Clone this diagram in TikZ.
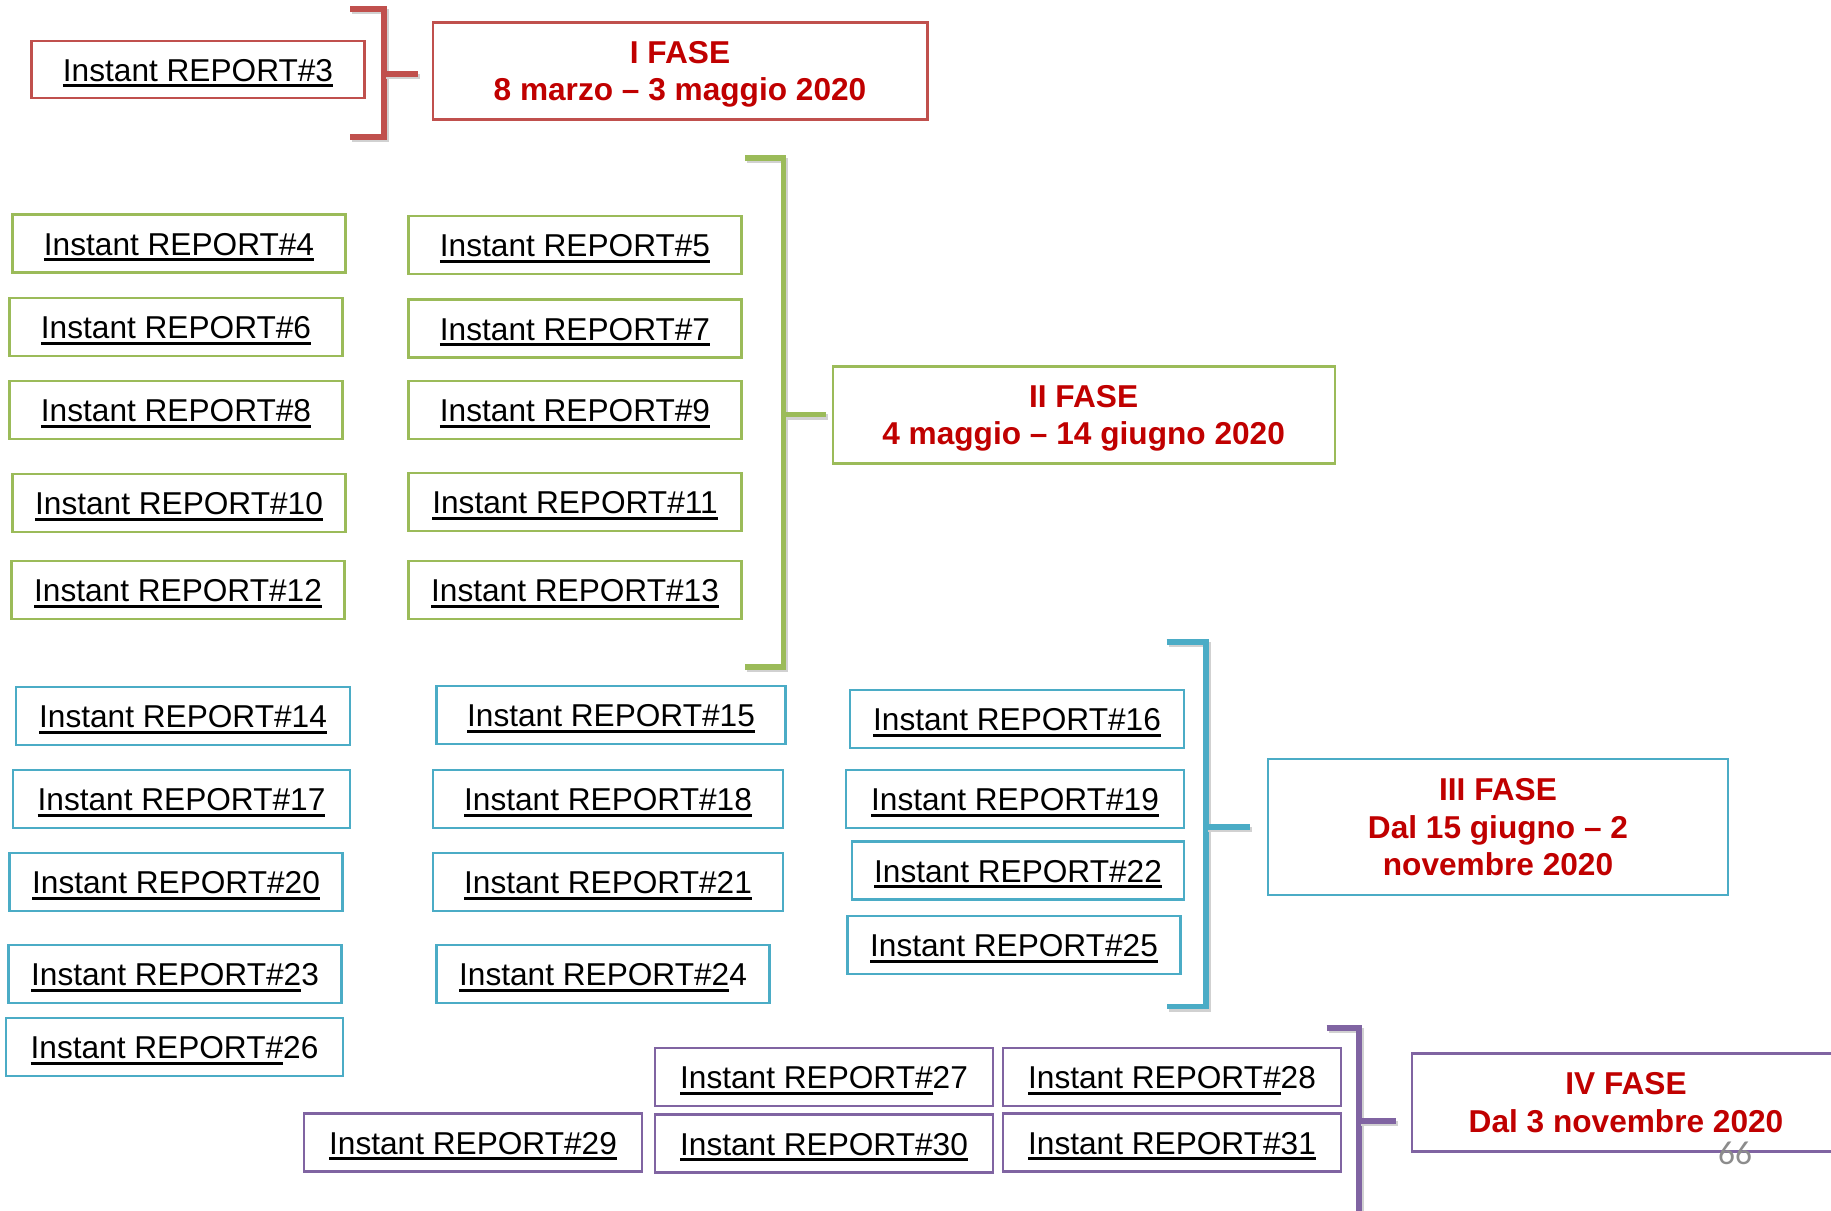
\documentclass[tikz,border=0pt]{standalone}
\usepackage{fontspec}
\setmainfont{Liberation Sans}
\newfontfamily\pagefont{Carlito}
\usepackage{xcolor}
\usetikzlibrary{positioning}

\definecolor{redline}{HTML}{C0504D}
\definecolor{greenline}{HTML}{9BBB59}
\definecolor{blueline}{HTML}{4BACC6}
\definecolor{purpleline}{HTML}{8064A2}
\definecolor{fasered}{HTML}{C00000}

\newsavebox{\ulbox}
\newcommand{\undl}[1]{\sbox{\ulbox}{#1}\rlap{\rule[-3.4pt]{\wd\ulbox}{1.5pt}}\usebox{\ulbox}}
\newcommand{\ir}[1]{\undl{Instant REPORT\##1}}

\begin{document}
\begin{tikzpicture}[x=0.02cm, y=-0.02cm,
    rep/.style={rectangle, draw=#1, line width=1.2pt, fill=white, inner sep=0pt,
                minimum width=6.66cm, minimum height=1.16cm,
                text height=13.2pt, text depth=0pt,
                font=\fontsize{18}{21.5}\selectfont},
    fase/.style={rectangle, draw=#1, line width=1.2pt, fill=white, inner sep=0pt,
                 align=center, text=fasered, minimum height=1.94cm, text depth=0pt,
                 font=\fontsize{18}{21.5}\selectfont\bfseries},
    brk/.style={draw=#1, line width=3pt, line join=miter,
                preaction={draw=black!18, line width=3pt, transform canvas={shift={(1.2pt,-1.4pt)}}}}
]
    \path[use as bounding box, clip] (0,0) rectangle (1831,1210);

    % I fase
    \node[rep=redline, minimum height=1.14cm] (r3) at (198,69.5) {\ir{3}};
    \node[fase=redline, minimum width=9.9cm] (f1) at (680,71) {I FASE\\8 marzo – 3 maggio 2020};
    \coordinate (b1) at (384,74);
    \draw[brk=redline] (350,9) -| (384,137) -- (350,137);
    \draw[brk=redline] (b1) -- ++(34,0);

    % II fase
    \node[rep=greenline] (r4)  at (179,243.5) {\ir{4}};
    \node[rep=greenline] (r6)  at (176,327)   {\ir{6}};
    \node[rep=greenline] (r8)  at (176,410)   {\ir{8}};
    \node[rep=greenline] (r10) at (179,503)   {\ir{10}};
    \node[rep=greenline] (r12) at (178,590)   {\ir{12}};
    \node[rep=greenline] (r5)  at (575,245)   {\ir{5}};
    \node[rep=greenline] (r7)  at (575,328.5) {\ir{7}};
    \node[rep=greenline] (r9)  at (575,410)   {\ir{9}};
    \node[rep=greenline] (r11) at (575,502)   {\ir{11}};
    \node[rep=greenline] (r13) at (575,590)   {\ir{13}};
    \node[fase=greenline, minimum width=10.04cm] (f2) at (1083.6,415) {II FASE\\4 maggio – 14 giugno 2020};
    \coordinate (b2) at (783.5,414.5);
    \draw[brk=greenline] (745,158) -| (783.5,667) -- (745,667);
    \draw[brk=greenline] (b2) -- ++(42,0);

    % III fase
    \node[rep=blueline, minimum width=6.68cm] (r14) at (183,716)   {\ir{14}};
    \node[rep=blueline, minimum width=6.74cm] (r17) at (181.5,799) {\ir{17}};
    \node[rep=blueline]                      (r20) at (176,882)   {\ir{20}};
    \node[rep=blueline]                      (r23) at (175,974)   {\undl{Instant REPORT\#2}3};
    \node[rep=blueline, minimum width=6.74cm] (r26) at (174.5,1047) {\undl{Instant REPORT\#}26};
    \node[rep=blueline, minimum width=6.98cm] (r15) at (611,715)   {\ir{15}};
    \node[rep=blueline, minimum width=7.0cm]  (r18) at (608,799)   {\ir{18}};
    \node[rep=blueline, minimum width=7.0cm]  (r21) at (608,882)   {\ir{21}};
    \node[rep=blueline]                      (r24) at (603,974)   {\undl{Instant REPORT\#2}4};
    \node[rep=blueline, minimum width=6.68cm] (r16) at (1017,719)  {\ir{16}};
    \node[rep=blueline, minimum width=6.75cm] (r19) at (1015,799)  {\ir{19}};
    \node[rep=blueline, minimum width=6.64cm] (r22) at (1018,870.5) {\ir{22}};
    \node[rep=blueline]                      (r25) at (1014,945)  {\ir{25}};
    \node[fase=blueline, minimum width=9.2cm, minimum height=2.71cm] (f3) at (1498,827)
        {III FASE\\Dal 15 giugno – 2\\novembre 2020};
    \coordinate (b3) at (1206,827);
    \draw[brk=blueline] (1166.5,642) -| (1206,1006.5) -- (1166.5,1006.5);
    \draw[brk=blueline] (b3) -- ++(43.5,0);

    % IV fase
    \node[rep=purpleline, minimum width=6.75cm] (r27) at (824,1077)   {\undl{Instant REPORT\#}27};
    \node[rep=purpleline, minimum width=6.75cm] (r28) at (1172,1077)  {\undl{Instant REPORT\#}28};
    \node[rep=purpleline, minimum width=6.77cm] (r29) at (473,1142.5) {\ir{29}};
    \node[rep=purpleline, minimum width=6.75cm] (r30) at (824,1143.5) {\ir{30}};
    \node[rep=purpleline, minimum width=6.75cm] (r31) at (1172,1142.5) {\ir{31}};
    \node[fase=purpleline, minimum width=8.56cm, minimum height=1.96cm] (f4) at (1626,1102.5)
        {IV FASE\\Dal 3 novembre 2020};
    \coordinate (b4) at (1359,1121);
    \draw[brk=purpleline] (1326.5,1028) -| (1359,1214) -- (1326.5,1214);
    \draw[brk=purpleline] (b4) -- ++(36.5,0);

    \node[text=black!45, font=\fontsize{19}{21}\selectfont\pagefont] (pg) at (1735,1153) {66};
\end{tikzpicture}
\end{document}
